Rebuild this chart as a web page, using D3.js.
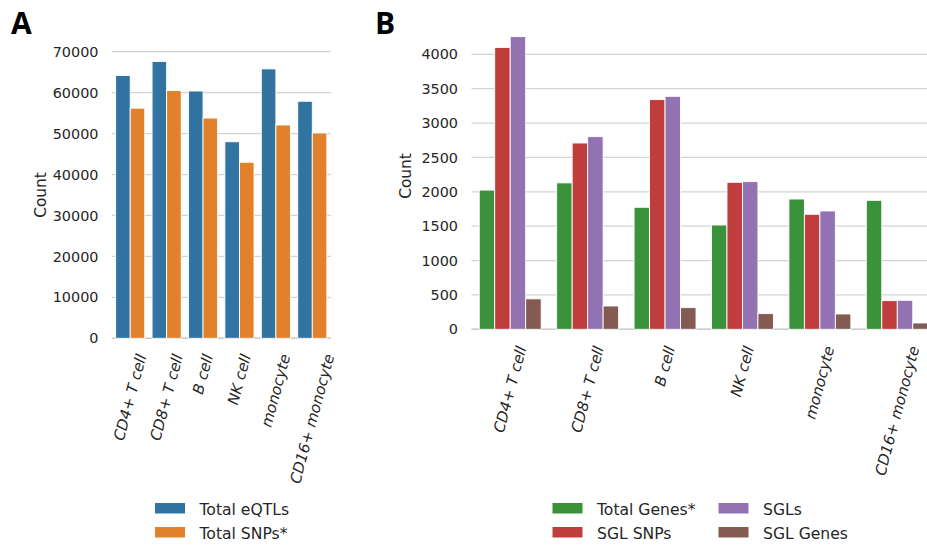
<!DOCTYPE html>
<html>
<head>
<meta charset="utf-8">
<script src="https://cdn.jsdelivr.net/npm/d3@7"></script>
<style>
  html, body { margin: 0; padding: 0; background: #fff; }
  svg { display: block; font-family: "DejaVu Sans", sans-serif; }
</style>
</head>
<body>
<svg id="fig" width="927" height="546"></svg>
<script>
// Cell types shared by both panels
const cellTypes = ["CD4+ T cell", "CD8+ T cell", "B cell", "NK cell", "monocyte", "CD16+ monocyte"];

// Panel A series
const seriesA = ["Total eQTLs", "Total SNPs*"];
const totalEqtls = [64200, 67600, 60400, 48000, 65800, 57900];
const totalSnps = [56200, 60500, 53800, 43000, 52100, 50150];
const ticksA = [0, 10000, 20000, 30000, 40000, 50000, 60000, 70000];

// Panel B series
const seriesB = ["Total Genes*", "SGL SNPs", "SGLs", "SGL Genes"];
const totalGenes = [2025, 2130, 1775, 1517, 1895, 1876];
const sglSnps = [4100, 2710, 3341, 2138, 1673, 417];
const sgls = [4257, 2802, 3389, 2148, 1721, 422];
const sglGenes = [443, 339, 315, 228, 223, 92];
const ticksB = [0, 500, 1000, 1500, 2000, 2500, 3000, 3500, 4000];

const colorsA = ["#3274a1", "#e1812c"];
const colorsB = ["#3a923a", "#c03d3e", "#9372b2", "#845b53"];

const svg = d3.select("#fig");
const TEXT = "#262626";

function panel(cfg) {
  const g = svg.append("g");
  const x0 = d3.scaleBand().domain(cellTypes).range([cfg.left, cfg.right]).paddingInner(0).paddingOuter(0);
  const inner = d3.scaleBand().domain(cfg.series).range([0, x0.bandwidth() * 0.8]);
  const y = d3.scaleLinear().domain([0, cfg.ticks[cfg.ticks.length - 1]]).range([cfg.bottom, cfg.top]);

  // horizontal grid
  g.append("g").selectAll("line").data(cfg.ticks).join("line")
    .attr("x1", cfg.left).attr("x2", cfg.gridRight)
    .attr("y1", d => y(d)).attr("y2", d => y(d))
    .attr("stroke", "#d3d3d3").attr("stroke-width", 1.2);

  // bottom spine
  g.append("line")
    .attr("x1", cfg.left).attr("x2", cfg.gridRight)
    .attr("y1", y(0)).attr("y2", y(0))
    .attr("stroke", "#cccccc").attr("stroke-width", 1.5);

  // y axis labels
  const yAxis = d3.axisLeft(y).tickValues(cfg.ticks).tickSize(0).tickPadding(0).tickFormat(d3.format("d"));
  const ya = g.append("g").attr("transform", `translate(${cfg.labelRight},0)`).call(yAxis);
  ya.select(".domain").remove();
  ya.selectAll("text").attr("font-size", 14.4).attr("fill", TEXT).attr("font-family", "DejaVu Sans");

  // bars
  const groups = g.append("g").selectAll("g").data(cellTypes).join("g")
    .attr("transform", d => `translate(${x0(d) + x0.bandwidth() * 0.1},0)`);
  groups.selectAll("rect")
    .data((d, i) => cfg.series.map((s, k) => ({ s, k, v: cfg.values[k][i] })))
    .join("rect")
    .attr("x", d => inner(d.s))
    .attr("width", inner.bandwidth())
    .attr("y", d => y(d.v))
    .attr("height", d => y(0) - y(d.v))
    .attr("fill", d => cfg.colors[d.k])
    .attr("stroke", "#ffffff").attr("stroke-width", 0.9);

  // x tick labels, rotated and top-aligned below the axis
  const theta = 75 * Math.PI / 180;
  const fs = 15;
  const h = fs * 1.17;
  g.append("g").selectAll("text").data(cellTypes).join("text")
    .text(d => d)
    .attr("font-size", fs).attr("font-style", "italic").attr("fill", TEXT)
    .attr("text-anchor", "middle").attr("dominant-baseline", "central")
    .each(function (d) {
      const L = this.getComputedTextLength();
      const H = L * Math.sin(theta) + h * Math.cos(theta);
      const cx = x0(d) + x0.bandwidth() / 2;
      const cy = y(0) + cfg.xPad + H / 2;
      d3.select(this).attr("transform", `translate(${cx},${cy}) rotate(-75)`);
    });

  // y axis title
  g.append("text").text("Count")
    .attr("font-size", 15.4).attr("fill", TEXT).attr("text-anchor", "middle")
    .attr("transform", `translate(${cfg.titleX},${cfg.titleY}) rotate(-90)`);

  // panel letter
  g.append("text").text(cfg.letter)
    .attr("x", cfg.letterX).attr("y", 34)
    .attr("font-family", "'Open Sans', sans-serif").attr("font-weight", 700)
    .attr("font-size", 30).attr("fill", "#000");

  // legend
  const leg = g.append("g");
  cfg.series.forEach((s, k) => {
    const col = Math.floor(k / 2), row = k % 2;
    const lx = cfg.legendX + col * cfg.legendColW;
    const ly = 503 + row * 24;
    leg.append("rect").attr("x", lx).attr("y", ly).attr("width", 30).attr("height", 10.5)
      .attr("fill", cfg.colors[k]);
    leg.append("text").text(s).attr("x", lx + 44.5).attr("y", ly + 11.8)
      .attr("font-size", 15.6).attr("fill", TEXT);
  });
}

panel({
  letter: "A", letterX: 11,
  series: seriesA, values: [totalEqtls, totalSnps], colors: colorsA, ticks: ticksA,
  left: 112, right: 330.5, gridRight: 331, top: 51.7, bottom: 338.3,
  labelRight: 98.5, xPad: 14, titleX: 46, titleY: 195,
  legendX: 155, legendColW: 0
});

panel({
  letter: "B", letterX: 375,
  series: seriesB, values: [totalGenes, sglSnps, sgls, sglGenes], colors: colorsB, ticks: ticksB,
  left: 471.5, right: 936, gridRight: 936, top: 54.3, bottom: 329.3,
  labelRight: 458, xPad: 15, titleX: 411, titleY: 176,
  legendX: 552.5, legendColW: 166
});
</script>
</body>
</html>
